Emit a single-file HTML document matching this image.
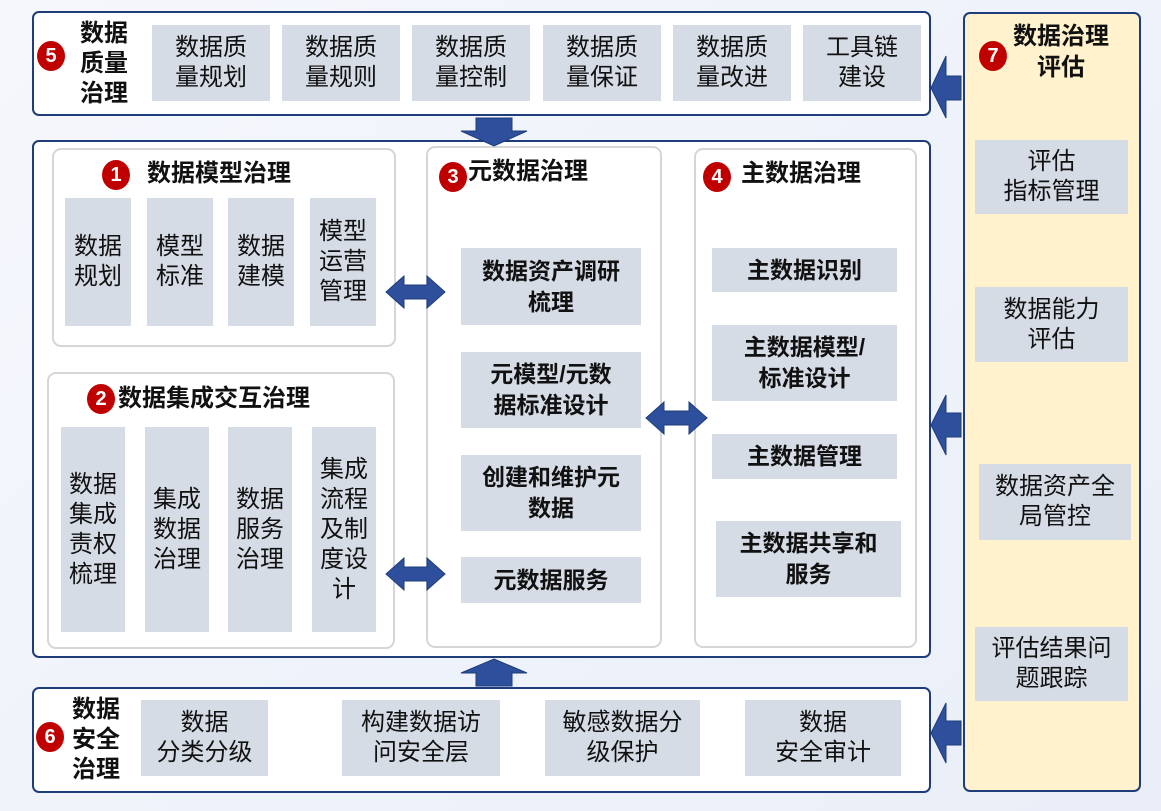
<!DOCTYPE html>
<html><head><meta charset="utf-8"><style>
*{margin:0;padding:0;box-sizing:border-box}
body{width:1161px;height:811px;position:relative;overflow:hidden;background:linear-gradient(135deg,#f5f7fc,#e9eef8);font-family:"Liberation Sans","Noto Sans CJK SC",sans-serif;color:#111}
.a{position:absolute}
.frame{position:absolute;border:2px solid #1f3d7a;border-radius:7px;background:#fff}
.panel{position:absolute;border:2px solid #d6d6d6;border-radius:9px;background:#fff}
.g{position:absolute;background:#d6dce6;display:flex;align-items:center;justify-content:center;text-align:center;font-size:24px;line-height:30px;white-space:nowrap}
.b{font-weight:bold;font-size:23px;line-height:31px}
.badge{position:absolute;width:28px;height:30px;border-radius:50%;background:#c00000;color:#fff;font-weight:bold;font-size:20px;display:flex;align-items:center;justify-content:center}
.t{position:absolute;font-weight:bold;font-size:24px;line-height:30px;white-space:nowrap}
</style></head><body>
<div class="frame" style="left:32px;top:11px;width:899px;height:105px"></div>
<div class="badge" style="left:37px;top:41px">5</div>
<div class="t" style="left:80px;top:19px;width:52px;white-space:normal">数据质量治理</div>
<div class="g" style="left:152px;top:25px;width:118px;height:76px">数据质<br>量规划</div>
<div class="g" style="left:282px;top:25px;width:118px;height:76px">数据质<br>量规则</div>
<div class="g" style="left:412px;top:25px;width:118px;height:76px">数据质<br>量控制</div>
<div class="g" style="left:543px;top:25px;width:118px;height:76px">数据质<br>量保证</div>
<div class="g" style="left:673px;top:25px;width:118px;height:76px">数据质<br>量改进</div>
<div class="g" style="left:803px;top:25px;width:118px;height:76px">工具链<br>建设</div>

<div class="frame" style="left:32px;top:140px;width:899px;height:518px"></div>
<div class="panel" style="left:52px;top:148px;width:344px;height:199px"></div>
<div class="badge" style="left:102px;top:160px">1</div>
<div class="t" style="left:147px;top:159px">数据模型治理</div>
<div class="g" style="left:65px;top:198px;width:66px;height:128px">数据<br>规划</div>
<div class="g" style="left:147px;top:198px;width:66px;height:128px">模型<br>标准</div>
<div class="g" style="left:228px;top:198px;width:66px;height:128px">数据<br>建模</div>
<div class="g" style="left:310px;top:198px;width:66px;height:128px">模型<br>运营<br>管理</div>

<div class="panel" style="left:47px;top:372px;width:348px;height:277px"></div>
<div class="badge" style="left:87px;top:384px">2</div>
<div class="t" style="left:118px;top:384px">数据集成交互治理</div>
<div class="g" style="left:61px;top:427px;width:64px;height:205px">数据<br>集成<br>责权<br>梳理</div>
<div class="g" style="left:145px;top:427px;width:64px;height:205px">集成<br>数据<br>治理</div>
<div class="g" style="left:228px;top:427px;width:64px;height:205px">数据<br>服务<br>治理</div>
<div class="g" style="left:312px;top:427px;width:64px;height:205px">集成<br>流程<br>及制<br>度设<br>计</div>

<div class="panel" style="left:426px;top:146px;width:236px;height:502px"></div>
<div class="badge" style="left:439px;top:162px">3</div>
<div class="t" style="left:468px;top:157px">元数据治理</div>
<div class="g b" style="left:461px;top:248px;width:180px;height:77px">数据资产调研<br>梳理</div>
<div class="g b" style="left:461px;top:352px;width:180px;height:76px">元模型/元数<br>据标准设计</div>
<div class="g b" style="left:461px;top:455px;width:180px;height:76px">创建和维护元<br>数据</div>
<div class="g b" style="left:461px;top:557px;width:180px;height:46px">元数据服务</div>

<div class="panel" style="left:694px;top:148px;width:223px;height:500px"></div>
<div class="badge" style="left:703px;top:162px">4</div>
<div class="t" style="left:741px;top:159px">主数据治理</div>
<div class="g b" style="left:712px;top:248px;width:185px;height:44px">主数据识别</div>
<div class="g b" style="left:712px;top:325px;width:185px;height:76px">主数据模型/<br>标准设计</div>
<div class="g b" style="left:712px;top:434px;width:185px;height:45px">主数据管理</div>
<div class="g b" style="left:716px;top:521px;width:185px;height:76px">主数据共享和<br>服务</div>

<div class="frame" style="left:32px;top:687px;width:899px;height:106px"></div>
<div class="badge" style="left:36px;top:722px">6</div>
<div class="t" style="left:72px;top:695px;width:52px;white-space:normal">数据安全治理</div>
<div class="g" style="left:141px;top:700px;width:127px;height:76px">数据<br>分类分级</div>
<div class="g" style="left:342px;top:700px;width:158px;height:76px">构建数据访<br>问安全层</div>
<div class="g" style="left:545px;top:700px;width:155px;height:76px">敏感数据分<br>级保护</div>
<div class="g" style="left:745px;top:700px;width:156px;height:76px">数据<br>安全审计</div>

<div class="frame" style="left:963px;top:12px;width:178px;height:780px;background:#fff2cc"></div>
<div class="badge" style="left:979px;top:41px">7</div>
<div class="t" style="left:1006px;top:21px;width:110px;text-align:center;line-height:31px">数据治理<br>评估</div>
<div class="g" style="left:975px;top:140px;width:153px;height:74px">评估<br>指标管理</div>
<div class="g" style="left:975px;top:287px;width:153px;height:75px">数据能力<br>评估</div>
<div class="g" style="left:979px;top:464px;width:152px;height:76px">数据资产全<br>局管控</div>
<div class="g" style="left:975px;top:627px;width:153px;height:74px">评估结果问<br>题跟踪</div>

<svg class="a" style="left:0;top:0" width="1161" height="811">
<g fill="#2e4f9b" stroke="#1f3d7a" stroke-width="1">
<polygon points="476,118 512,118 512,131 527,131 494,146 461,131 476,131"/>
<polygon points="494,659 527,673 512,673 512,686 476,686 476,673 461,673"/>
<polygon points="386,292 404,276 404,285 427,285 427,276 445,292 427,308 427,299 404,299 404,308"/>
<polygon points="386,574 404,558 404,567 427,567 427,558 445,574 427,590 427,581 404,581 404,590"/>
<polygon points="646,418 664,402 664,411 689,411 689,402 707,418 689,434 689,425 664,425 664,434"/>
<polygon points="931,88 946,56 946,76 961,76 961,100 946,100 946,118"/>
<polygon points="931,425 946,395 946,413 961,413 961,437 946,437 946,455"/>
<polygon points="931,733 946,703 946,721 961,721 961,745 946,745 946,763"/>
</g>
</svg>
</body></html>
